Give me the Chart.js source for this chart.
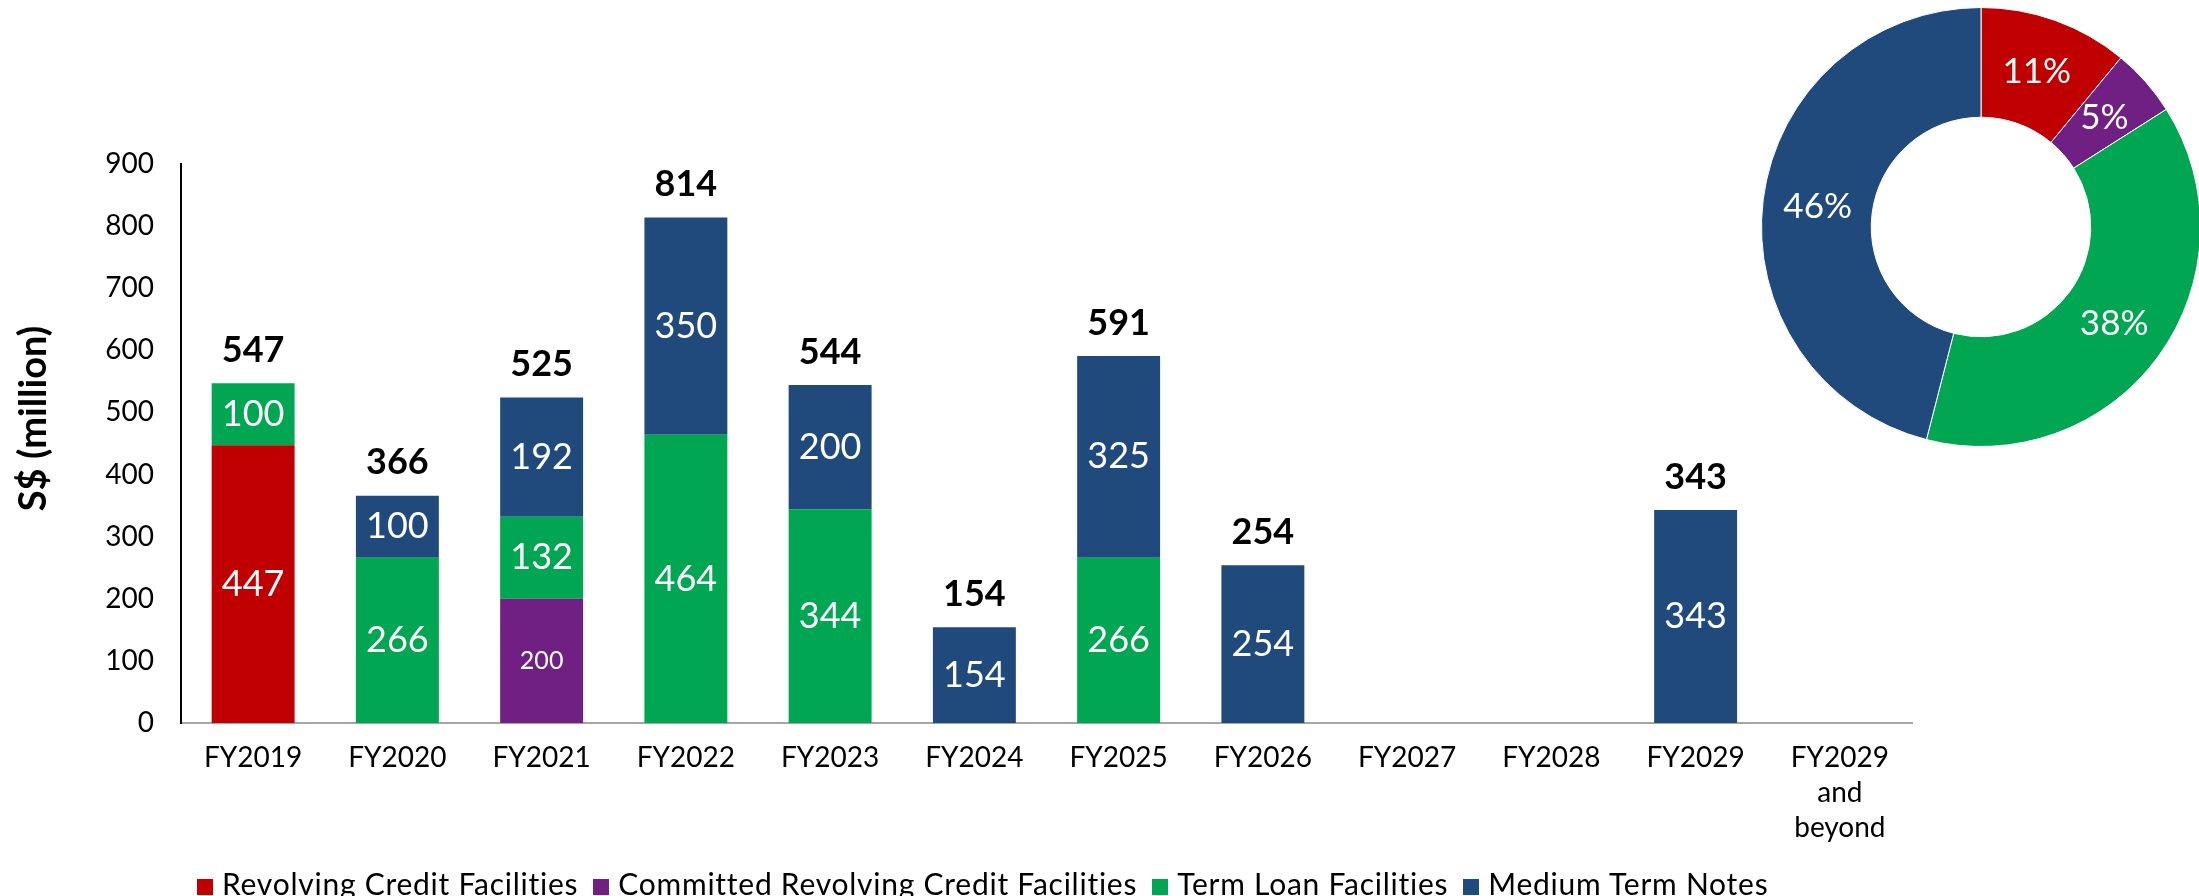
<!DOCTYPE html>
<html>
<head>
<meta charset="utf-8">
<script src="https://cdn.jsdelivr.net/npm/chart.js@4.4.1/dist/chart.umd.min.js"></script>
<style>
html, body { margin: 0; padding: 0; background: #fff; overflow: hidden; width: 2199px; height: 896px; }
#barWrap { position: absolute; left: 0; top: 0; width: 1930px; height: 896px; }
#pieWrap { position: absolute; left: 1755px; top: 1px; width: 452px; height: 452px; }
#legend { position: absolute; left: 197px; top: 868px; display: flex; align-items: baseline; font-family: Lato, sans-serif; font-size: 30px; line-height: 30px; letter-spacing: 0.75px; color: #000; white-space: nowrap; }
#legend .item { margin-right: 15px; }
#legend .box { display: inline-block; width: 16px; height: 16px; margin-right: 9px; }
</style>
</head>
<body>
<div id="barWrap"><canvas id="barChart" width="1930" height="896"></canvas></div>
<div id="pieWrap"><canvas id="pieChart" width="452" height="452"></canvas></div>
<div id="legend"></div>
<script>
// dati
const categories = ['FY2019', 'FY2020', 'FY2021', 'FY2022', 'FY2023', 'FY2024', 'FY2025', 'FY2026', 'FY2027', 'FY2028', 'FY2029', ['FY2029', 'and', 'beyond']];
const revolving = [447, null, null, null, null, null, null, null, null, null, null, null];
const committed = [null, null, 200, null, null, null, null, null, null, null, null, null];
const termLoan = [100, 266, 132, 464, 344, null, 266, null, null, null, null, null];
const mediumTerm = [null, 100, 192, 350, 200, 154, 325, 254, null, null, 343, null];
const totals = [547, 366, 525, 814, 544, 154, 591, 254, null, null, 343, null];
const seriesNames = ['Revolving Credit Facilities', 'Committed Revolving Credit Facilities', 'Term Loan Facilities', 'Medium Term Notes'];
const seriesColors = ['#C00000', '#702082', '#00A651', '#214A7C'];
const shares = [11, 5, 38, 46];
const yTicks = [0, 100, 200, 300, 400, 500, 600, 700, 800, 900];
const yTitle = 'S$ (million)';

const FONT = 'Lato';

// etichette dentro le barre e totali sopra
const barLabels = {
    id: 'barLabels',
    afterDatasetsDraw(chart) {
        const ctx = chart.ctx;
        ctx.save();
        ctx.textAlign = 'center';
        ctx.textBaseline = 'middle';
        const tops = [];
        chart.data.datasets.forEach((ds, di) => {
            const meta = chart.getDatasetMeta(di);
            meta.data.forEach((bar, i) => {
                const v = ds.data[i];
                if (v === null) return;
                ctx.fillStyle = '#fff';
                ctx.font = (di === 1 ? '25px ' : '36px ') + FONT;
                ctx.fillText(String(v), bar.x, (bar.y + bar.base) / 2);
                if (tops[i] === undefined || bar.y < tops[i].y) tops[i] = { x: bar.x, y: bar.y };
            });
        });
        ctx.fillStyle = '#000';
        ctx.font = 'bold 36px ' + FONT;
        totals.forEach((t, i) => {
            if (t === null || !tops[i]) return;
            ctx.fillText(String(t), tops[i].x, tops[i].y - 33);
        });
        ctx.restore();
    }
};

// titolo asse y, un po' sopra il centro come nell'originale
const axisTitle = {
    id: 'axisTitle',
    afterDraw(chart) {
        const ctx = chart.ctx;
        const mid = (chart.chartArea.top + chart.chartArea.bottom) / 2 - 25;
        ctx.save();
        ctx.translate(34, mid);
        ctx.rotate(-Math.PI / 2);
        ctx.textAlign = 'center';
        ctx.textBaseline = 'middle';
        ctx.fillStyle = '#000';
        ctx.font = 'bold 38px ' + FONT;
        ctx.fillText(yTitle, 0, 0);
        ctx.restore();
    }
};

const pieLabels = {
    id: 'pieLabels',
    afterDatasetsDraw(chart) {
        const ctx = chart.ctx;
        ctx.save();
        ctx.textAlign = 'center';
        ctx.textBaseline = 'middle';
        ctx.fillStyle = '#fff';
        ctx.font = '35px ' + FONT;
        chart.getDatasetMeta(0).data.forEach((arc, i) => {
            const p = arc.tooltipPosition();
            ctx.fillText(shares[i] + '%', p.x, p.y);
        });
        ctx.restore();
    }
};

const seriesData = [revolving, committed, termLoan, mediumTerm];

const barChart = new Chart(document.getElementById('barChart'), {
    type: 'bar',
    data: {
        labels: categories,
        datasets: seriesData.map((d, i) => ({
            label: seriesNames[i],
            data: d,
            backgroundColor: seriesColors[i],
            borderWidth: 0,
            barPercentage: 0.575,
            categoryPercentage: 1
        }))
    },
    options: {
        responsive: false,
        animation: false,
        layout: { padding: { top: 164, right: 18, left: 0, bottom: 0 } },
        plugins: { legend: { display: false }, tooltip: { enabled: false } },
        scales: {
            x: {
                stacked: true,
                grid: { display: false, drawTicks: false },
                border: { color: '#A6A6A6', width: 2 },
                ticks: {
                    color: '#000',
                    font: { family: FONT, size: 28, lineHeight: 1.25 },
                    padding: 17,
                    autoSkip: false,
                    maxRotation: 0
                },
                afterFit: s => { s.height = 173; }
            },
            y: {
                stacked: true,
                min: 0,
                max: 900,
                afterBuildTicks: s => { s.ticks = yTicks.map(v => ({ value: v })); },
                grid: { display: false, drawTicks: false },
                border: { color: '#000', width: 2 },
                ticks: {
                    color: '#000',
                    font: { family: FONT, size: 28 },
                    padding: 27
                },
                afterFit: s => { s.width = 181; }
            }
        }
    },
    plugins: [barLabels, axisTitle]
});

const pieChart = new Chart(document.getElementById('pieChart'), {
    type: 'doughnut',
    data: {
        labels: seriesNames,
        datasets: [{
            data: shares,
            backgroundColor: seriesColors,
            borderColor: '#fff',
            borderWidth: 1
        }]
    },
    options: {
        responsive: false,
        animation: false,
        cutout: '50%',
        layout: { padding: 6 },
        plugins: { legend: { display: false }, tooltip: { enabled: false } }
    },
    plugins: [pieLabels]
});

// legenda in basso
const legendEl = document.getElementById('legend');
seriesNames.forEach((name, i) => {
    const item = document.createElement('span');
    item.className = 'item';
    const box = document.createElement('span');
    box.className = 'box';
    box.style.background = seriesColors[i];
    item.appendChild(box);
    item.appendChild(document.createTextNode(name));
    legendEl.appendChild(item);
});
</script>
</body>
</html>
